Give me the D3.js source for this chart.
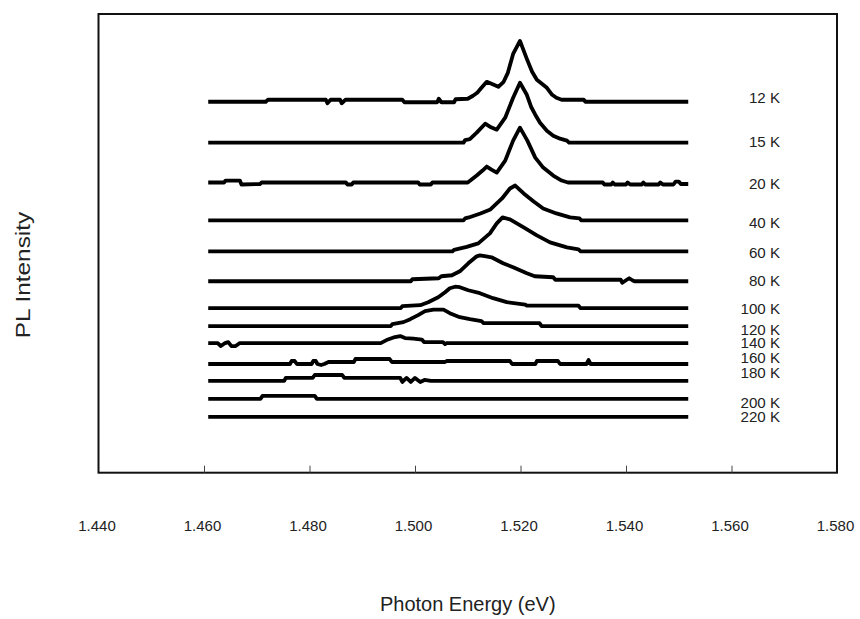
<!DOCTYPE html>
<html>
<head>
<meta charset="utf-8">
<title>PL spectra vs temperature</title>
<style>
  body { margin: 0; background: #fff; }
  svg text { font-family: "Liberation Sans", Arial, sans-serif; fill: #222; }
</style>
</head>
<body>
<svg id="chart"></svg>
<script src="https://cdn.jsdelivr.net/npm/d3@7"></script>
<script>
// temperatures and vertical offset of each spectrum (arb. units)
var temps   = ["12 K", "15 K", "20 K", "40 K", "60 K", "80 K", "100 K", "120 K", "140 K", "160 K", "180 K", "200 K", "220 K"];
var offsets = [372, 331, 291, 253, 222, 192, 165, 147, 130, 109, 92, 74, 56];

// x ticks (eV)
var xTicks = [1.44, 1.46, 1.48, 1.50, 1.52, 1.54, 1.56, 1.58];

// spectra: [photon energy (eV), PL intensity above offset]
var pl12 = [[1.4608,0],[1.4717,0],[1.4721,2],[1.4831,2],[1.4834,-1.5],[1.4840,2],[1.4858,2],[1.4861,-1.5],[1.4868,2],
  [1.4976,2],[1.4980,-0.5],[1.5042,-0.5],[1.5045,3],[1.5050,-0.5],[1.5074,-0.5],[1.5077,2.5],[1.5100,3],[1.5110,6],
  [1.5118,9],[1.5126,14],[1.5136,20],[1.5145,18],[1.5158,15],[1.5168,20],[1.5176,29],[1.5186,48],[1.5199,61],
  [1.5212,43],[1.5222,30],[1.5231,22],[1.5250,14],[1.5260,7],[1.5268,4],[1.5278,2],[1.5320,2],[1.5323,0],[1.5518,0]];
var pl15 = [[1.4608,0],[1.5092,0],[1.5095,2.5],[1.5104,3.5],[1.5117,10],[1.5133,19],[1.5142,16],[1.5155,13],
  [1.5171,25],[1.5186,45],[1.5199,60],[1.5212,48],[1.5220,36],[1.5228,28],[1.5237,20],[1.5250,12],[1.5262,7],
  [1.5275,4],[1.5288,2],[1.5292,0],[1.5518,0]];
var pl20 = [[1.4608,0],[1.4638,0],[1.4641,2],[1.4668,2],[1.4671,-2],[1.4706,-1.5],[1.4709,0],[1.4869,0],[1.4872,-2],
  [1.4880,-2],[1.4883,0],[1.5006,0],[1.5009,-2],[1.5030,-2],[1.5033,0],[1.5100,0],[1.5117,7],[1.5128,12],[1.5136,16],
  [1.5145,13],[1.5155,10],[1.5171,22],[1.5186,42],[1.5199,55],[1.5213,42],[1.5228,25],[1.5243,15],[1.5262,7],
  [1.5278,2],[1.5290,0],[1.5356,0],[1.5359,-2],[1.5372,-2],[1.5375,0],[1.5379,-2],[1.5400,-2],[1.5403,0],
  [1.5408,-2],[1.5430,-2],[1.5433,0],[1.5437,-2],[1.5462,-2],[1.5465,0],[1.5470,-2],[1.5490,-2],[1.5494,1],
  [1.5500,1],[1.5504,-1.5],[1.5518,-1.5]];
var pl40 = [[1.4608,0],[1.5092,0],[1.5095,2],[1.5102,3],[1.5124,7],[1.5143,11],[1.5165,22],[1.5180,32],[1.5190,35],
  [1.5206,27],[1.5225,19],[1.5243,12],[1.5268,7],[1.5294,3],[1.5312,2],[1.5315,0],[1.5518,0]];
var pl60 = [[1.4608,0],[1.5071,0],[1.5074,1.5],[1.5098,4.5],[1.5120,8],[1.5142,18],[1.5155,28],[1.5166,34],
  [1.5180,32],[1.5206,24],[1.5231,16],[1.5256,9],[1.5288,4],[1.5310,2],[1.5314,0],[1.5518,0]];
var pl80 = [[1.4608,0],[1.4992,0],[1.4995,2],[1.5045,3],[1.5050,5],[1.5070,6],[1.5085,10],[1.5101,18],[1.5117,25],
  [1.5123,26],[1.5135,25],[1.5145,24],[1.5167,18],[1.5186,14],[1.5212,8],[1.5227,5],[1.5262,4],[1.5266,1.5],
  [1.5390,1.5],[1.5393,-1.5],[1.5400,1],[1.5406,3],[1.5412,1],[1.5416,0],[1.5518,0]];
var pl100 = [[1.4608,0],[1.4973,0],[1.4976,2],[1.5010,3],[1.5025,6],[1.5044,11],[1.5057,16],[1.5066,20],
  [1.5076,21.5],[1.5085,21],[1.5101,18],[1.5123,15],[1.5148,10],[1.5174,6],[1.5209,3.5],[1.5212,2.5],[1.5310,2.5],
  [1.5314,0],[1.5518,0]];
var pl120 = [[1.4608,0],[1.4954,0],[1.4957,2],[1.4978,4],[1.4991,7],[1.5006,11],[1.5019,15],[1.5035,16.5],
  [1.5054,16.5],[1.5066,13],[1.5085,9],[1.5104,7],[1.5126,5],[1.5130,3],[1.5236,3],[1.5240,0],[1.5518,0]];
var pl140 = [[1.4608,0],[1.4626,0],[1.4632,-3],[1.4640,0],[1.4646,1],[1.4652,-3],[1.4660,-3],[1.4668,0],[1.4935,0],
  [1.4946,3],[1.4962,6],[1.4972,7],[1.4981,5],[1.4997,4.5],[1.5013,3.5],[1.5017,1],[1.5053,1],[1.5057,-1],
  [1.5060,0],[1.5518,0]];
var pl160 = [[1.4608,0],[1.4763,0],[1.4766,3],[1.4772,3],[1.4776,0],[1.4804,0],[1.4807,3],[1.4812,3],[1.4815,0],
  [1.4822,-1],[1.4828,0],[1.4836,2],[1.4884,2],[1.4887,5],[1.4952,5],[1.4956,2],[1.5057,2],[1.5060,3],[1.5180,3],
  [1.5184,0],[1.5228,0],[1.5231,3],[1.5271,3],[1.5275,0],[1.5325,0],[1.5329,4],[1.5333,0],[1.5518,0]];
var pl180 = [[1.4608,0],[1.4752,0],[1.4755,3],[1.4806,3],[1.4810,6],[1.4862,6],[1.4866,3],[1.4972,3],[1.4976,-1],
  [1.4984,3],[1.4992,-1],[1.5000,3],[1.5010,-1],[1.5018,1],[1.5030,0],[1.5518,0]];
var pl200 = [[1.4608,0],[1.4707,0],[1.4711,3],[1.4810,3],[1.4814,0],[1.5518,0]];
var pl220 = [[1.4608,0],[1.5518,0]];

var spectra = [pl12, pl15, pl20, pl40, pl60, pl80, pl100, pl120, pl140, pl160, pl180, pl200, pl220];

// layout
var width = 860, height = 619;
var plot = {left: 98.5, right: 837, top: 14, bottom: 472.7};
var labelNudge = [-4, -1, 2, 3, 2, 0, 1, 3.5, 0.5, -5.5, -8, 4, 0];   // px, label centre vs. baseline

var svg = d3.select("#chart").attr("width", width).attr("height", height);

var x = d3.scaleLinear().domain([1.44, 1.58]).range([plot.left, plot.right]);
var y = d3.scaleLinear().domain([0, 460]).range([plot.bottom, plot.top]);

// frame
svg.append("rect")
  .attr("x", plot.left).attr("y", plot.top)
  .attr("width", plot.right - plot.left).attr("height", plot.bottom - plot.top)
  .attr("fill", "none").attr("stroke", "#111").attr("stroke-width", 2);

// x axis: inward ticks, labels well below
var xAxis = d3.axisBottom(x).tickValues(xTicks).tickSize(-7).tickPadding(48)
  .tickFormat(d3.format(".3f"));
var gx = svg.append("g").attr("transform", "translate(0," + plot.bottom + ")").call(xAxis);
gx.select(".domain").remove();
gx.selectAll(".tick line").attr("stroke", "#444").attr("stroke-width", 1)
  .filter(function(d) { return d === 1.44 || d === 1.58; }).remove();
gx.selectAll(".tick text").attr("font-size", 15).attr("dx", -2)
  .style("font-family", "Liberation Sans, Arial, sans-serif").attr("fill", "#222");

// spectra
var line = d3.line()
  .x(function(d) { return x(d[0]); });

svg.append("g").selectAll("path")
  .data(spectra)
  .enter().append("path")
  .attr("d", function(s, i) {
    return line.y(function(d) { return y(offsets[i] + d[1]); })(s);
  })
  .attr("fill", "none")
  .attr("stroke", "#000")
  .attr("stroke-width", 3.8)
  .attr("stroke-linejoin", "round");

// temperature labels
svg.append("g").selectAll("text")
  .data(temps)
  .enter().append("text")
  .attr("x", 780)
  .attr("y", function(d, i) { return y(offsets[i]) + labelNudge[i]; })
  .attr("dy", "0.35em")
  .attr("text-anchor", "end")
  .attr("font-size", 14)
  .attr("transform", function(d, i) {
    // slightly wider glyphs, as in the original
    var cx = 780;
    return "translate(" + cx + ",0) scale(1.08,1) translate(" + (-cx) + ",0)";
  })
  .text(function(d) { return d; });

// axis titles
svg.append("text")
  .attr("x", (plot.left + plot.right) / 2).attr("y", 611)
  .attr("text-anchor", "middle").attr("font-size", 20).attr("fill", "#000")
  .text("Photon Energy (eV)");

svg.append("text")
  .attr("transform", "translate(30," + 275 + ") rotate(-90) scale(1.22,1)")
  .attr("text-anchor", "middle").attr("font-size", 20).attr("fill", "#000")
  .text("PL Intensity");
</script>
</body>
</html>
